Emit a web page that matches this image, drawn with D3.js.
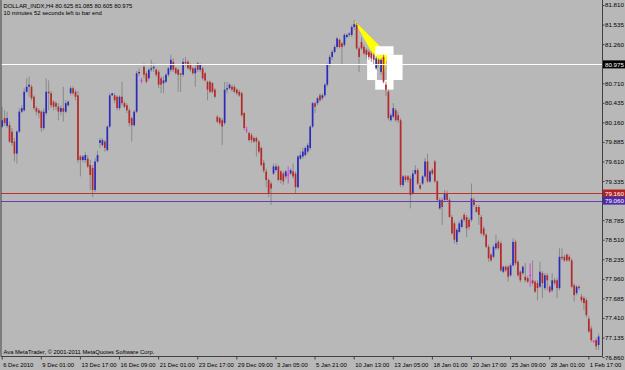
<!DOCTYPE html>
<html><head><meta charset="utf-8">
<script src="https://cdn.jsdelivr.net/npm/d3@7"></script>
<style>html,body{margin:0;padding:0;background:#b8b8b8;}svg{display:block;}</style>
</head><body><svg id="c" width="625" height="370"></svg>
<script>
// ---- data (DOLLAR_INDX, H4) ----
const openP = [80.10,80.22,80.11,80.12,80.03,79.89,79.72,80.03,80.31,80.33,
80.59,80.66,80.66,80.52,80.36,80.33,80.31,80.08,80.29,80.59,
80.57,80.45,80.43,80.38,80.31,80.36,80.31,80.40,80.57,80.64,
80.59,80.54,79.68,79.63,79.63,79.65,79.56,79.52,79.21,79.61,
79.87,79.84,79.89,79.77,80.10,80.54,80.54,80.52,80.36,80.52,
80.43,80.40,80.33,80.22,80.12,80.31,80.85,80.75,80.94,80.85,
80.78,80.90,80.92,80.90,80.87,80.78,80.71,80.73,80.83,80.90,
81.01,80.92,80.90,80.85,80.83,81.01,81.01,80.97,80.92,80.85,
80.99,80.90,80.92,80.85,80.73,80.73,80.71,80.62,80.24,80.22,
80.19,80.15,80.62,80.64,80.66,80.66,80.62,80.59,80.57,80.29,
80.05,80.01,79.98,79.94,79.94,79.89,79.80,79.59,79.47,79.35,
79.30,79.44,79.49,79.54,79.47,79.44,79.40,79.42,79.44,79.47,
79.44,79.25,79.65,79.68,79.70,79.75,79.80,80.10,80.43,80.43,
80.54,80.50,80.54,80.69,80.97,81.08,81.15,81.22,81.32,81.27,
81.25,81.36,81.39,81.39,81.50,81.53,81.20,81.29,81.22,81.18,
81.15,81.13,81.11,80.92,81.04,80.87,81.08,80.69,80.59,80.19,
80.24,80.33,80.26,80.19,79.28,79.40,79.40,79.37,79.16,79.44,
79.49,79.28,79.30,79.40,79.61,79.33,79.49,79.61,79.33,78.95,
79.07,79.07,79.16,79.07,78.83,78.74,78.48,78.62,78.69,78.86,
78.83,78.79,78.79,79.07,78.97,78.97,78.83,78.67,78.58,78.41,
78.30,78.27,78.39,78.48,78.46,78.06,78.13,78.13,78.01,78.15,
78.48,78.20,78.06,78.04,77.99,77.97,78.01,77.94,77.92,77.90,
77.85,78.04,77.83,78.01,77.85,77.80,77.94,77.94,77.83,78.27,
78.27,78.30,78.27,78.22,77.87,77.76,77.85,77.71,77.69,77.66,
77.40,77.26,77.08,77.10,77.03];
const highP = [80.38,80.33,80.31,80.17,80.08,79.94,80.05,80.36,80.40,80.64,
80.78,80.80,80.69,80.54,80.39,80.36,80.33,80.36,80.78,80.75,
80.60,80.47,80.46,80.43,80.40,80.66,80.47,80.47,80.67,80.67,
80.62,80.60,79.70,79.70,79.74,79.70,79.63,79.56,79.66,79.76,
79.94,79.94,79.91,80.12,80.57,80.57,80.57,80.54,80.54,80.73,
80.46,80.43,80.36,80.24,80.33,80.88,80.92,80.78,80.99,80.88,
80.92,81.04,80.99,80.92,80.90,80.81,80.81,80.85,80.94,81.11,
81.06,80.94,80.92,80.85,81.06,81.08,81.04,80.99,80.94,80.97,
81.01,80.99,80.94,80.87,80.75,80.75,80.73,80.64,80.26,80.24,
80.22,80.73,80.73,80.71,80.69,80.69,80.64,80.62,80.59,80.31,
80.10,80.03,80.01,79.96,79.96,79.91,79.82,79.63,79.51,79.37,
79.33,79.58,79.58,79.56,79.49,79.47,79.49,79.54,79.51,79.58,
79.47,79.70,79.75,79.80,79.82,79.87,80.12,80.45,80.45,80.52,
80.57,80.57,80.71,80.99,81.11,81.18,81.25,81.36,81.34,81.29,
81.41,81.41,81.43,81.53,81.60,81.56,81.23,81.35,81.25,81.20,
81.18,81.16,81.13,81.09,81.06,81.06,81.11,80.73,80.62,80.29,
80.43,80.36,80.31,80.22,79.42,79.42,79.42,79.41,79.49,79.56,
79.52,79.31,79.42,79.66,79.72,79.49,79.52,79.63,79.35,79.10,
79.10,79.21,79.20,79.10,78.86,78.77,78.67,78.77,78.82,78.89,
78.86,78.82,79.30,79.10,79.00,79.00,78.86,78.70,78.60,78.44,
78.32,78.44,78.58,78.51,78.49,78.15,78.15,78.15,78.18,78.53,
78.51,78.22,78.08,78.15,78.18,78.00,78.18,78.22,77.94,77.94,
78.20,78.07,78.04,78.04,77.87,78.04,77.97,77.97,78.39,78.39,
78.30,78.32,78.30,78.25,77.90,77.87,77.87,77.75,77.72,77.69,
77.44,77.30,77.10,77.13,77.19];
const lowP = [80.08,80.11,80.08,79.87,79.83,79.61,79.58,80.01,80.29,80.31,
80.57,80.52,80.47,80.33,80.26,80.22,80.03,80.05,80.26,80.33,
80.36,80.33,80.33,80.19,80.26,80.17,80.29,80.38,80.54,80.54,
80.47,79.59,79.40,79.60,79.59,79.52,79.21,79.11,79.18,79.59,
79.80,79.82,79.75,79.75,80.08,80.53,80.43,80.33,80.33,80.40,
80.36,80.29,80.10,79.89,80.10,80.29,80.81,80.71,80.78,80.71,
80.75,80.87,80.87,80.80,80.64,80.57,80.57,80.71,80.80,80.87,
80.87,80.83,80.59,80.59,80.80,80.95,80.90,80.87,80.83,80.66,
80.87,80.87,80.75,80.73,80.47,80.57,80.57,80.50,80.15,80.12,
79.84,80.12,80.57,80.62,80.59,80.57,80.54,80.52,80.24,80.05,
80.01,79.89,79.87,79.87,79.68,79.72,79.54,79.45,79.25,79.11,
79.00,79.42,79.47,79.33,79.30,79.28,79.37,79.30,79.42,79.37,
79.16,79.23,79.63,79.65,79.68,79.72,79.77,80.08,80.29,80.40,
80.45,80.47,80.52,80.66,80.94,81.04,81.13,81.20,81.20,80.97,
81.22,81.34,81.36,81.36,81.46,81.18,80.87,81.18,81.11,81.06,
81.04,81.01,80.97,80.90,80.94,80.83,80.71,80.53,80.19,80.17,
80.22,80.17,80.15,79.25,79.25,79.32,79.31,78.95,79.14,79.42,
79.28,79.21,79.28,79.38,79.31,79.31,79.42,79.31,79.04,78.93,
78.72,79.04,79.04,78.82,78.58,78.46,78.44,78.60,78.67,78.76,
78.55,78.65,78.76,78.97,78.89,78.72,78.58,78.55,78.39,78.20,
78.20,78.25,78.37,78.37,78.06,78.04,78.06,77.92,77.99,78.13,
78.15,77.99,77.91,78.01,77.91,77.90,77.85,77.87,77.76,77.66,
77.83,77.69,77.80,77.80,77.76,77.77,77.87,77.69,77.80,78.22,
78.20,78.20,78.20,77.83,77.64,77.73,77.80,77.63,77.52,77.42,
77.20,77.07,77.06,76.96,76.96];
const closeP = [80.19,80.15,80.22,79.89,79.87,79.72,80.03,80.31,80.36,80.59,
80.66,80.69,80.50,80.36,80.31,80.29,80.08,80.31,80.59,80.57,
80.40,80.38,80.38,80.31,80.36,80.31,80.43,80.45,80.64,80.57,
80.52,79.63,79.63,79.68,79.70,79.54,79.42,79.21,79.61,79.70,
79.91,79.91,79.80,80.10,80.54,80.57,80.47,80.36,80.52,80.43,
80.38,80.33,80.15,80.12,80.31,80.85,80.87,80.75,80.83,80.73,
80.90,80.92,80.94,80.83,80.69,80.69,80.75,80.83,80.92,81.04,
80.90,80.85,80.83,80.83,81.01,80.99,80.92,80.90,80.85,80.92,
80.90,80.97,80.78,80.75,80.62,80.59,80.59,80.52,80.17,80.15,
80.10,80.62,80.64,80.69,80.62,80.59,80.57,80.54,80.26,80.08,
80.05,79.91,79.91,79.89,79.89,79.75,79.56,79.48,79.35,79.16,
79.23,79.54,79.54,79.35,79.35,79.33,79.47,79.42,79.49,79.40,
79.25,79.68,79.70,79.75,79.80,79.84,80.10,80.43,80.38,80.50,
80.47,80.54,80.69,80.97,81.08,81.15,81.22,81.34,81.22,81.22,
81.39,81.39,81.41,81.50,81.54,81.20,81.08,81.20,81.13,81.11,
81.08,81.06,81.04,81.06,80.97,81.04,80.73,80.62,80.22,80.26,
80.36,80.19,80.19,79.28,79.40,79.35,79.35,79.14,79.44,79.49,
79.30,79.23,79.40,79.61,79.33,79.47,79.44,79.33,79.07,79.07,
78.97,79.16,79.07,78.83,78.60,78.51,78.65,78.74,78.79,78.79,
78.67,78.69,79.09,79.00,78.90,78.86,78.60,78.58,78.41,78.25,
78.22,78.41,78.46,78.39,78.08,78.13,78.08,77.99,78.15,78.48,
78.18,78.01,77.94,78.13,77.94,77.92,78.01,77.90,77.78,77.83,
78.06,77.90,78.01,77.94,77.78,77.94,77.90,77.83,78.27,78.25,
78.22,78.22,78.22,77.85,77.73,77.85,77.83,77.66,77.62,77.45,
77.22,77.10,77.08,77.01,77.15];

const timeLabels = ["6 Dec 2010","9 Dec 01:00","13 Dec 17:00","16 Dec 09:00","21 Dec 01:00",
  "23 Dec 17:00","29 Dec 09:00","3 Jan 05:00","5 Jan 21:00","10 Jan 13:00","13 Jan 05:00",
  "18 Jan 01:00","20 Jan 17:00","25 Jan 09:00","28 Jan 01:00","1 Feb 17:00"];
const timeLabelBars = [0,16,32,48,64,80,96,112,128,144,160,176,192,208,224,240];
const priceTicks = [81.810,81.535,81.260,80.985,80.710,80.435,80.160,79.885,79.610,79.335,
  79.060,78.785,78.510,78.235,77.960,77.685,77.410,77.135,76.860];
const levelLines = [80.975, 79.160, 79.060];
const triangleBars = [143.8, 157.7, 156.1];
const trianglePrices = [81.60, 81.12, 80.84];
// white rectangle objects: from/to bar, top/bottom price
const boxBarFrom = [152.6, 149.3, 157.4, 152.6];
const boxBarTo = [160.1, 153.3, 163.8, 160.1];
const boxPriceTop = [81.23, 81.11, 81.11, 80.755];
const boxPriceBottom = [81.11, 80.755, 80.755, 80.62];
const headerLine1 = "DOLLAR_INDX,H4  80.625 81.085 80.605 80.975";
const headerLine2 = "10 minutes 52 seconds left to bar end";
const copyright = "Ava MetaTrader, \u00A9 2001-2011 MetaQuotes Software Corp.";

// ---- drawing ----
const svg = d3.select("#c");
const W = 625, H = 370, plotRight = 602.5, plotBottom = 356.5;
const font = "'Liberation Sans', Arial, sans-serif";
const n = openP.length;
const x = d3.scaleLinear().domain([0, n - 1]).range([2.2, 598.6]);
const y = d3.scaleLinear().domain([76.86, 81.81]).range([357.1, 5]);

svg.append("rect").attr("width", W).attr("height", H).attr("fill", "#b8b8b8");

// background objects
svg.append("polygon")
  .attr("points", triangleBars.map((b, i) => [x(b), y(trianglePrices[i])].join(",")).join(" "))
  .attr("fill", "#ffff00");
svg.append("g").selectAll("rect").data(boxBarFrom).join("rect")
  .attr("x", (d) => x(d)).attr("width", (d, i) => x(boxBarTo[i]) - x(d))
  .attr("y", (d, i) => y(boxPriceTop[i])).attr("height", (d, i) => y(boxPriceBottom[i]) - y(boxPriceTop[i]))
  .attr("fill", "#ffffff");

// candles
const idx = d3.range(n);
const g = svg.append("g");
g.selectAll("line.w").data(idx).join("line").attr("class", "w")
  .attr("x1", (i) => x(i)).attr("x2", (i) => x(i))
  .attr("y1", (i) => y(highP[i])).attr("y2", (i) => y(lowP[i]))
  .attr("stroke", (i) => openP[i] === closeP[i] ? "#e030e0" : "#858585")
  .attr("stroke-width", 0.9);
g.selectAll("rect.b").data(idx.filter((i) => openP[i] !== closeP[i])).join("rect").attr("class", "b")
  .attr("x", (i) => x(i) - 0.85).attr("width", 1.7)
  .attr("y", (i) => y(Math.max(openP[i], closeP[i])))
  .attr("height", (i) => Math.max(0.8, Math.abs(y(openP[i]) - y(closeP[i]))))
  .attr("fill", (i) => closeP[i] > openP[i] ? "#2a2ac0" : "#b82828");
g.selectAll("line.d").data(idx.filter((i) => openP[i] === closeP[i])).join("line").attr("class", "d")
  .attr("x1", (i) => x(i) - 1).attr("x2", (i) => x(i) + 1)
  .attr("y1", (i) => y(openP[i])).attr("y2", (i) => y(openP[i]))
  .attr("stroke", "#e030e0").attr("stroke-width", 1);

// level lines
const lineColors = ["#ffffff", "#c03030", "#6a3cb8"];
const boxColors = ["#000000", "#b02222", "#4a2aa8"];
svg.append("g").selectAll("line").data(levelLines).join("line")
  .attr("x1", 1).attr("x2", plotRight).attr("y1", (d) => Math.round(y(d)) + 0.5).attr("y2", (d) => Math.round(y(d)) + 0.5)
  .attr("stroke", (d, i) => lineColors[i]).attr("stroke-width", 1);

// frame
svg.append("line").attr("x1", 1).attr("x2", 1).attr("y1", 0).attr("y2", plotBottom).attr("stroke", "#404040");
svg.append("line").attr("x1", 1).attr("x2", plotRight).attr("y1", plotBottom).attr("y2", plotBottom).attr("stroke", "#404040");
svg.append("line").attr("x1", plotRight).attr("x2", plotRight).attr("y1", 0).attr("y2", plotBottom).attr("stroke", "#404040");

// right price axis
const pa = svg.append("g").attr("transform", `translate(${plotRight},0)`)
  .call(d3.axisRight(y).tickValues(priceTicks).tickSize(2).tickPadding(0.5).tickFormat(d3.format(".3f")));
pa.select(".domain").remove();
pa.selectAll("line").attr("stroke", "#404040");
pa.selectAll("text").attr("font-family", font).attr("font-size", 6.2).attr("fill", "#000");

// level labels on axis
const lb = svg.append("g");
lb.selectAll("rect").data(levelLines).join("rect")
  .attr("x", plotRight + 0.5).attr("width", W - plotRight).attr("y", (d) => y(d) - 4).attr("height", 8)
  .attr("fill", (d, i) => boxColors[i]);
lb.selectAll("text").data(levelLines).join("text")
  .attr("x", plotRight + 2.5).attr("y", (d) => y(d) + 2.3)
  .attr("font-family", font).attr("font-size", 6.2).attr("fill", "#ffffff")
  .text((d) => d3.format(".3f")(d));

// bottom time axis
const ta = svg.append("g").attr("transform", `translate(0,${plotBottom})`)
  .call(d3.axisBottom(x).tickValues(timeLabelBars).tickSize(3).tickFormat((d, i) => timeLabels[i]));
ta.select(".domain").remove();
ta.selectAll(".tick line").attr("stroke", "#404040").attr("transform", "translate(-0.5,0)");
ta.selectAll("text").attr("font-family", font).attr("font-size", 5.9).attr("fill", "#000")
  .attr("text-anchor", "start").attr("dx", 0.5).attr("dy", 0).attr("y", 10.5);

// header and copyright
const txt = (s, tx, ty, fs) => svg.append("text").attr("x", tx).attr("y", ty)
  .attr("font-family", font).attr("font-size", fs).attr("fill", "#000").text(s);
txt(headerLine1, 3.5, 8, 5.9);
txt(headerLine2, 3.5, 15, 5.9);
txt(copyright, 3.5, 354, 5.8);
</script></body></html>
